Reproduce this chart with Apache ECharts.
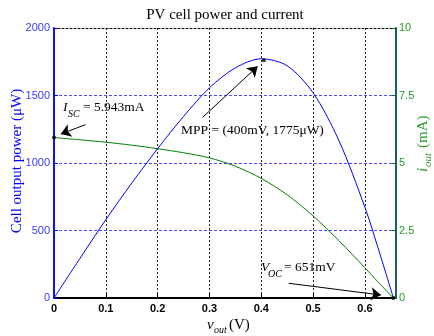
<!DOCTYPE html>
<html>
<head>
<meta charset="utf-8">
<script src="https://cdn.jsdelivr.net/npm/echarts@6/dist/echarts.min.js"></script>
<style>
  html, body { margin: 0; padding: 0; background: #fff; }
  #chart { width: 434px; height: 336px; }
</style>
</head>
<body>
<div id="chart"></div>
<script>
// values
const voltage = [0, 0.05, 0.1, 0.15, 0.2, 0.25, 0.3, 0.35, 0.4, 0.45, 0.5, 0.55, 0.6, 0.625, 0.655];
const powerUW = [0, 293, 580, 851, 1106, 1345, 1557, 1705, 1772, 1720, 1520, 1165, 672, 375, 0];
const currentMA = [5.943, 5.86, 5.77, 5.66, 5.53, 5.38, 5.19, 4.88, 4.43, 3.82, 3.04, 2.12, 1.12, 0.6, 0];

// marked points: [v, value]
const iscPoint = [0, 5.943];
const mppPoint = [0.405, 1762];
const vocPoint = [0.655, 0];

// annotation arrows in (V, uW) coords: [from, to]
const arrows = [
  [[0.061, 1284], [0.013, 1215]],
  [[0.287, 1339], [0.393, 1716]],
  [[0.453, 109], [0.631, 22]]
];

const serif = '"Liberation Serif", "Times New Roman", serif';
const sans = '"Liberation Sans", Arial, sans-serif';
const blue = '#0000ff';
const green = '#008000';

const chart = echarts.init(document.getElementById('chart'));

function txt(x, y, text, size, opts) {
  return {
    type: 'text',
    x: x,
    y: y,
    style: {
      text: text,
      fill: '#000',
      font: (opts && opts.italic ? 'italic ' : '') + size + 'px ' + serif,
      align: (opts && opts.align) || 'left',
      verticalAlign: 'middle'
    }
  };
}

function zip(xs, ys) {
  return xs.map((x, i) => [x, ys[i]]);
}

const option = {
  animation: false,
  grid: { left: 54, right: 38, top: 28, bottom: 38 },
  xAxis: [
    {
      type: 'value',
      min: 0,
      max: 0.66,
      interval: 0.1,
      z: 0,
      axisLine: { show: true, onZero: false, lineStyle: { color: '#000', width: 2 } },
      axisTick: { show: true, inside: true, length: 4, lineStyle: { color: '#000' } },
      axisLabel: {
        showMaxLabel: false,
        color: '#000',
        fontFamily: sans,
        fontWeight: 'bold',
        fontSize: 11,
        margin: 5,
        formatter: v => (v === 0 ? '0' : v.toFixed(1))
      },
      splitLine: {
        show: true,
        showMinLine: false,
        showMaxLine: false,
        lineStyle: { color: '#222', width: 1, type: [2, 2] }
      }
    },
    {
      type: 'value',
      position: 'top',
      min: 0,
      max: 0.66,
      interval: 0.1,
      z: 1,
      axisLine: { show: true, onZero: false, lineStyle: { color: '#000', width: 1, type: [2, 2] } },
      axisTick: { show: false },
      axisLabel: { show: false },
      splitLine: { show: false }
    }
  ],
  yAxis: [
    {
      type: 'value',
      min: 0,
      max: 2000,
      interval: 500,
      position: 'left',
      z: 1,
      axisLine: { show: true, onZero: false, lineStyle: { color: '#1010ff', width: 2 } },
      axisTick: { show: true, inside: true, length: 4, lineStyle: { color: blue } },
      axisLabel: {
        color: '#3a3aff',
        fontFamily: sans,
        fontSize: 11,
        margin: 4,
        formatter: v => String(v)
      },
      splitLine: {
        show: true,
        showMinLine: false,
        showMaxLine: false,
        lineStyle: { color: '#4d4dff', width: 1, type: [3, 2] }
      }
    },
    {
      type: 'value',
      min: 0,
      max: 10,
      interval: 2.5,
      position: 'right',
      z: 1,
      axisLine: { show: true, onZero: false, lineStyle: { color: '#1f5a66', width: 2 } },
      axisTick: { show: true, inside: true, length: 4, lineStyle: { color: green } },
      axisLabel: {
        color: '#2a9a2a',
        fontFamily: sans,
        fontSize: 11,
        margin: 3,
        formatter: v => String(v)
      },
      splitLine: { show: false }
    }
  ],
  series: [
    {
      name: 'Power',
      type: 'line',
      xAxisIndex: 0,
      yAxisIndex: 0,
      data: zip(voltage, powerUW),
      smooth: 0.3,
      showSymbol: false,
      lineStyle: { color: blue, width: 1 },
      z: 3,
      markLine: {
        silent: true,
        symbol: ['none', 'arrow'],
        symbolSize: 10,
        label: { show: false },
        lineStyle: { color: '#000', width: 1, type: 'solid' },
        data: arrows.map(a => [{ coord: a[0] }, { coord: a[1] }])
      }
    },
    {
      name: 'Current',
      type: 'line',
      xAxisIndex: 0,
      yAxisIndex: 1,
      data: zip(voltage, currentMA),
      smooth: 0.3,
      showSymbol: false,
      lineStyle: { color: green, width: 1 },
      z: 2
    },
    {
      type: 'scatter',
      xAxisIndex: 0,
      yAxisIndex: 0,
      data: [mppPoint, vocPoint],
      symbolSize: 4,
      itemStyle: { color: '#000' },
      z: 4
    },
    {
      type: 'scatter',
      xAxisIndex: 0,
      yAxisIndex: 1,
      data: [iscPoint],
      symbolSize: 4,
      itemStyle: { color: '#000' },
      z: 4
    }
  ],
  graphic: [
    txt(225, 15, 'PV cell power and current', 15, { align: 'center' }),
    // I_SC
    txt(63, 107, 'I', 13.5, { italic: true }),
    txt(68, 114, 'SC', 10, { italic: true }),
    txt(83, 107, '= 5.943mA', 13.5),
    // MPP
    txt(181, 130, 'MPP = (400mV, 1775\u03bcW)', 13.5),
    // V_OC
    txt(261, 267, 'V', 13.5, { italic: true }),
    txt(268, 274, 'OC', 10, { italic: true }),
    txt(284, 267, '= 651mV', 13.5),
    // x axis name
    txt(207, 325, 'v', 15, { italic: true }),
    txt(214, 330, 'out', 10, { italic: true }),
    txt(229, 325, '(V)', 15),
    // left axis name
    {
      type: 'text',
      x: 17,
      y: 161,
      rotation: Math.PI / 2,
      style: {
        text: 'Cell output power (\u03bcW)',
        fill: blue,
        font: '15px ' + serif,
        align: 'center',
        verticalAlign: 'middle'
      }
    },
    // right axis name
    {
      type: 'group',
      x: 423,
      y: 140,
      rotation: Math.PI / 2,
      children: [
        { type: 'text', x: -32, y: 0, style: { text: 'i', fill: '#2a9a2a', font: 'italic 15px ' + serif, verticalAlign: 'middle' } },
        { type: 'text', x: -27, y: 5, style: { text: 'out', fill: '#2a9a2a', font: 'italic 11px ' + serif, verticalAlign: 'middle' } },
        { type: 'text', x: -8, y: 0, style: { text: '(mA)', fill: '#2a9a2a', font: '15px ' + serif, verticalAlign: 'middle' } }
      ]
    }
  ]
};

chart.setOption(option);
</script>
</body>
</html>
